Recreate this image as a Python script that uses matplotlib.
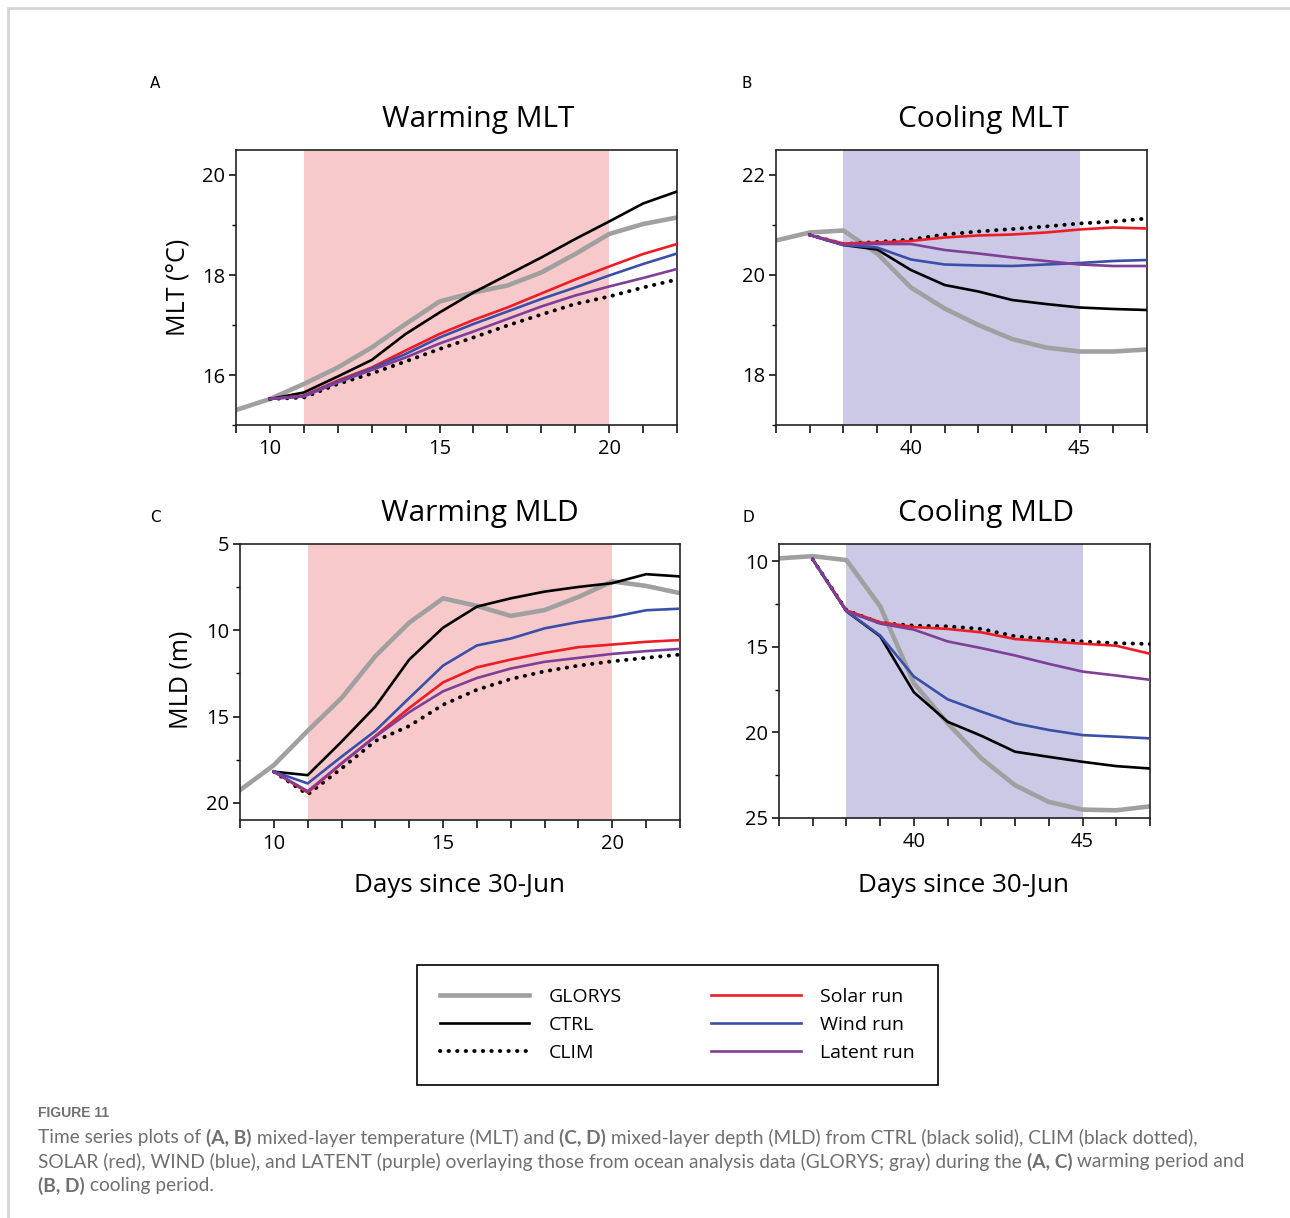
import numpy as np
import matplotlib
matplotlib.use("Agg")
import matplotlib.pyplot as plt
from matplotlib.lines import Line2D
from matplotlib.ticker import MultipleLocator

# ---- data ----
warm_days_glorys = [9, 10, 11, 12, 13, 14, 15, 16, 17, 18, 19, 20, 21, 22]
warm_days_runs = [10, 11, 12, 13, 14, 15, 16, 17, 18, 19, 20, 21, 22]
cool_days_glorys = [36, 37, 38, 39, 40, 41, 42, 43, 44, 45, 46, 47]
cool_days_runs = [37, 38, 39, 40, 41, 42, 43, 44, 45, 46, 47]

# A: warming MLT (degC)
mlt_warm_glorys = [15.30, 15.52, 15.82, 16.15, 16.55, 17.02, 17.47, 17.65, 17.79, 18.05, 18.42, 18.82, 19.02, 19.15]
mlt_warm_ctrl = [15.52, 15.65, 15.97, 16.30, 16.82, 17.25, 17.65, 18.00, 18.35, 18.72, 19.07, 19.43, 19.67]
mlt_warm_clim = [15.52, 15.55, 15.82, 16.03, 16.27, 16.52, 16.75, 16.99, 17.21, 17.42, 17.57, 17.75, 17.91]
mlt_warm_solar = [15.52, 15.59, 15.89, 16.15, 16.49, 16.82, 17.10, 17.35, 17.63, 17.91, 18.17, 18.42, 18.62]
mlt_warm_wind = [15.52, 15.58, 15.87, 16.13, 16.42, 16.75, 17.02, 17.27, 17.52, 17.75, 17.99, 18.22, 18.43]
mlt_warm_latent = [15.52, 15.57, 15.85, 16.10, 16.35, 16.63, 16.87, 17.12, 17.37, 17.59, 17.77, 17.94, 18.12]

# B: cooling MLT (degC)
mlt_cool_glorys = [20.69, 20.85, 20.89, 20.43, 19.75, 19.33, 19.00, 18.72, 18.55, 18.47, 18.47, 18.51]
mlt_cool_ctrl = [20.80, 20.60, 20.51, 20.10, 19.80, 19.67, 19.50, 19.42, 19.35, 19.32, 19.30]
mlt_cool_clim = [20.80, 20.62, 20.66, 20.71, 20.81, 20.87, 20.92, 20.97, 21.03, 21.07, 21.13]
mlt_cool_solar = [20.80, 20.63, 20.65, 20.68, 20.75, 20.79, 20.81, 20.85, 20.91, 20.95, 20.93]
mlt_cool_wind = [20.80, 20.60, 20.55, 20.31, 20.21, 20.19, 20.18, 20.21, 20.24, 20.28, 20.30]
mlt_cool_latent = [20.80, 20.60, 20.62, 20.62, 20.50, 20.43, 20.35, 20.28, 20.21, 20.18, 20.18]

# C: warming MLD (m)
mld_warm_glorys = [19.27, 17.82, 15.83, 13.93, 11.50, 9.56, 8.15, 8.59, 9.17, 8.83, 8.07, 7.17, 7.43, 7.85]
mld_warm_ctrl = [18.20, 18.40, 16.46, 14.42, 11.70, 9.85, 8.63, 8.15, 7.76, 7.49, 7.27, 6.75, 6.88]
mld_warm_clim = [18.20, 19.52, 18.01, 16.42, 15.55, 14.32, 13.45, 12.83, 12.38, 12.05, 11.80, 11.60, 11.41]
mld_warm_solar = [18.20, 19.41, 17.72, 16.13, 14.51, 13.02, 12.15, 11.70, 11.31, 10.98, 10.83, 10.67, 10.57]
mld_warm_wind = [18.20, 18.88, 17.33, 15.83, 13.93, 12.05, 10.88, 10.48, 9.89, 9.52, 9.23, 8.84, 8.75]
mld_warm_latent = [18.20, 19.33, 17.72, 16.17, 14.75, 13.54, 12.77, 12.22, 11.83, 11.60, 11.37, 11.21, 11.08]

# D: cooling MLD (m)
mld_cool_glorys = [9.84, 9.71, 9.94, 12.64, 17.13, 19.47, 21.52, 23.09, 24.06, 24.51, 24.55, 24.32]
mld_cool_ctrl = [9.90, 12.93, 14.39, 17.66, 19.38, 20.20, 21.13, 21.43, 21.72, 21.97, 22.11]
mld_cool_clim = [9.90, 12.87, 13.61, 13.77, 13.81, 13.96, 14.39, 14.55, 14.69, 14.79, 14.84]
mld_cool_solar = [9.90, 12.87, 13.57, 13.85, 13.96, 14.16, 14.55, 14.69, 14.82, 14.94, 15.41]
mld_cool_wind = [9.90, 12.93, 14.34, 16.74, 18.07, 18.79, 19.47, 19.86, 20.16, 20.25, 20.35]
mld_cool_latent = [9.90, 12.93, 13.65, 14.00, 14.69, 15.08, 15.51, 16.00, 16.45, 16.68, 16.93]

warm_period = (11, 20)
cool_period = (38, 45)

# ---- styles ----
C_GLORYS = "#a0a0a0"
C_RED = "#ee1c25"
C_BLUE = "#3a4fa8"
C_PURPLE = "#7f3f98"
C_WARM = "#f7c9cb"
C_COOL = "#cbc9e5"
FONT = ["Open Sans", "DejaVu Sans"]
plt.rcParams["font.family"] = FONT

W, H = 1290, 1218
fig = plt.figure(figsize=(W / 100, H / 100), dpi=100)


def px_axes(l, t, r, b):
    return fig.add_axes([l / W, 1 - b / H, (r - l) / W, (b - t) / H])


def draw_panel(ax, dg, dr, glorys, ctrl, clim, solar, wind, latent, span, shade):
    ax.axvspan(span[0], span[1], color=shade, lw=0, zorder=0)
    ax.plot(dg, glorys, color=C_GLORYS, lw=3.3, zorder=2)
    ax.plot(dr, ctrl, color="black", lw=1.9, zorder=3)
    ax.plot(dr, clim, color="black", lw=2.8, ls=(0, (0.1, 2.1)),
            dash_capstyle="round", zorder=3)
    ax.plot(dr, solar, color=C_RED, lw=1.9, zorder=4)
    ax.plot(dr, wind, color=C_BLUE, lw=1.9, zorder=4)
    ax.plot(dr, latent, color=C_PURPLE, lw=1.9, zorder=4)
    ax.xaxis.set_major_locator(MultipleLocator(5))
    ax.xaxis.set_minor_locator(MultipleLocator(1))
    ax.tick_params(axis="x", which="both", direction="out", length=6, width=1.1,
                   labelsize=14.5, pad=4)
    ax.tick_params(axis="y", which="major", direction="out", length=5, width=1.1,
                   labelsize=14.5, pad=3)
    ax.tick_params(axis="y", which="minor", direction="out", length=3, width=1.0)
    for s in ax.spines.values():
        s.set_linewidth(1.2)
        s.set_color("#222222")


axA = px_axes(236, 150, 677, 425)
draw_panel(axA, warm_days_glorys, warm_days_runs, mlt_warm_glorys, mlt_warm_ctrl,
           mlt_warm_clim, mlt_warm_solar, mlt_warm_wind, mlt_warm_latent,
           warm_period, C_WARM)
axA.set_xlim(9, 22); axA.set_ylim(15, 20.5)
axA.yaxis.set_major_locator(MultipleLocator(2)); axA.yaxis.set_minor_locator(MultipleLocator(1))

axB = px_axes(776, 150, 1147, 425)
draw_panel(axB, cool_days_glorys, cool_days_runs, mlt_cool_glorys, mlt_cool_ctrl,
           mlt_cool_clim, mlt_cool_solar, mlt_cool_wind, mlt_cool_latent,
           cool_period, C_COOL)
axB.set_xlim(36, 47); axB.set_ylim(17, 22.5)
axB.yaxis.set_major_locator(MultipleLocator(2)); axB.yaxis.set_minor_locator(MultipleLocator(1))

axC = px_axes(240, 544, 680, 820)
draw_panel(axC, warm_days_glorys, warm_days_runs, mld_warm_glorys, mld_warm_ctrl,
           mld_warm_clim, mld_warm_solar, mld_warm_wind, mld_warm_latent,
           warm_period, C_WARM)
axC.set_xlim(9, 22); axC.set_ylim(21, 5)
axC.yaxis.set_major_locator(MultipleLocator(5)); axC.yaxis.set_minor_locator(MultipleLocator(2.5))

axD = px_axes(779, 544, 1150, 818)
draw_panel(axD, cool_days_glorys, cool_days_runs, mld_cool_glorys, mld_cool_ctrl,
           mld_cool_clim, mld_cool_solar, mld_cool_wind, mld_cool_latent,
           cool_period, C_COOL)
axD.set_xlim(36, 47); axD.set_ylim(25, 9)
axD.yaxis.set_major_locator(MultipleLocator(5)); axD.yaxis.set_minor_locator(MultipleLocator(2.5))

# titles, labels, panel letters (placed in figure pixels)
def ftext(x, y, s, **kw):
    return fig.text(x / W, 1 - y / H, s, **kw)

for x, y, s in [(478, 120, "Warming MLT"), (983, 120, "Cooling MLT"),
                (480, 514, "Warming MLD"), (986, 514, "Cooling MLD")]:
    ftext(x, y, s, fontsize=21.5, ha="center", va="center")
for x, y, s in [(155, 83, "A"), (747, 83, "B"), (155, 518, "C"), (748, 518, "D")]:
    ftext(x, y, s, fontsize=11, ha="center", va="center", family="DejaVu Sans")
ftext(178, 287, "MLT (°C)", fontsize=18, rotation=90, ha="center", va="center")
ftext(181, 680, "MLD (m)", fontsize=18, rotation=90, ha="center", va="center")
ftext(459, 885, "Days since 30-Jun", fontsize=18.7, ha="center", va="center")
ftext(963, 885, "Days since 30-Jun", fontsize=18.7, ha="center", va="center")

# legend
handles = [
    Line2D([], [], color=C_GLORYS, lw=3.3),
    Line2D([], [], color="black", lw=1.9),
    Line2D([], [], color="black", lw=2.8, ls=(0, (0.1, 2.1)), dash_capstyle="round"),
    Line2D([], [], color=C_RED, lw=1.9),
    Line2D([], [], color=C_BLUE, lw=1.9),
    Line2D([], [], color=C_PURPLE, lw=1.9),
]
labels = ["GLORYS", "CTRL", "CLIM", "Solar run", "Wind run", "Latent run"]
leg = fig.legend(handles, labels, ncol=2, loc="center",
                 bbox_to_anchor=(677.5 / W, 1 - 1025 / H), fontsize=14,
                 handlelength=4.6, handletextpad=1.0, columnspacing=4.6,
                 labelspacing=0.5, borderpad=1.2, borderaxespad=0,
                 fancybox=False, framealpha=1)
leg.get_frame().set_edgecolor("black")
leg.get_frame().set_linewidth(1.2)

# light frame around the figure
fig.add_artist(Line2D([8 / W, 1], [1 - 8 / H, 1 - 8 / H], color="#d4d4d4", lw=2))
fig.add_artist(Line2D([8 / W, 8 / W], [0, 1 - 8 / H], color="#d4d4d4", lw=2))

# caption, with bold runs
CAP = "#707070"
ftext(38, 1113, "FIGURE 11", fontsize=10, color=CAP, weight="bold", va="center",
      family=["Liberation Sans Narrow", "Liberation Sans"])
caption = [
    [("Time series plots of ", "normal"), ("(A, B)", "bold"),
     (" mixed-layer temperature (MLT) and ", "normal"), ("(C, D)", "bold"),
     (" mixed-layer depth (MLD) from CTRL (black solid), CLIM (black dotted),", "normal")],
    [("SOLAR (red), WIND (blue), and LATENT (purple) overlaying those from ocean analysis data "
      "(GLORYS; gray) during the ", "normal"), ("(A, C)", "bold"),
     (" warming period and", "normal")],
    [("(B, D)", "bold"), (" cooling period.", "normal")],
]
renderer = fig.canvas.get_renderer()
for i, line in enumerate(caption):
    x = 38
    y = 1138 + 24 * i
    for s, wt in line:
        t = ftext(x, y, s, fontsize=13.8, color=CAP, weight=wt, va="center",
                  family=["Lato", "DejaVu Sans"])
        x += t.get_window_extent(renderer).width

fig.savefig("out.png", dpi=100)
